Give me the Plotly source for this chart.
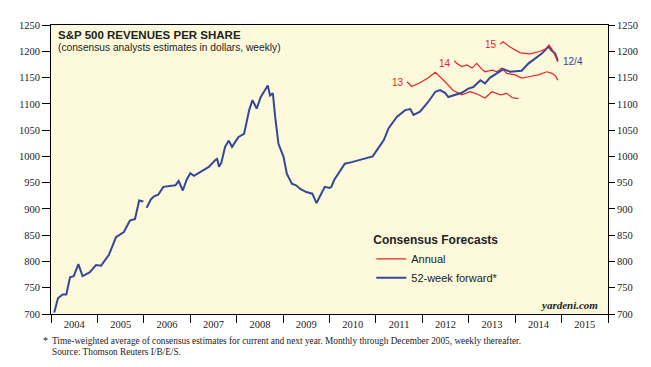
import plotly.graph_objects as go

# 52-week forward consensus revenues per share (decimal year, dollars)
fwd_x = [2004.07, 2004.15, 2004.25, 2004.33, 2004.41, 2004.49, 2004.59, 2004.68, 2004.83, 2004.97,
         2005.08, 2005.25, 2005.40, 2005.57, 2005.70, 2005.81, 2005.90, 2005.99, None,
         2006.06, 2006.15, 2006.22, 2006.31, 2006.42, 2006.55, 2006.68, 2006.75, 2006.84, 2006.92,
         2007.00, 2007.08, 2007.22, 2007.40, 2007.53, 2007.58, 2007.62, 2007.67, 2007.75, 2007.83, 2007.90,
         2008.04, 2008.16, 2008.27, 2008.34, 2008.43, 2008.52, 2008.61, 2008.67, 2008.72, 2008.78,
         2008.83, 2008.90, 2009.01, 2009.08, 2009.19, 2009.28, 2009.37, 2009.50, 2009.63, 2009.72,
         2009.80, 2009.90, 2010.00, 2010.04, 2010.10, 2010.19, 2010.33, 2010.48, 2010.71, 2010.93,
         2011.07, 2011.17, 2011.27, 2011.45, 2011.63, 2011.74, 2011.81, 2011.95,
         2012.13, 2012.28, 2012.38, 2012.49, 2012.56, 2012.71, 2012.85, 2012.99,
         2013.10, 2013.25, 2013.35, 2013.46, 2013.64, 2013.75, 2013.89,
         2014.04, 2014.14, 2014.29, 2014.43, 2014.58, 2014.72, 2014.79, 2014.86, 2014.92]
fwd_y = [703, 730, 737, 737, 770, 772, 795, 772, 779, 793,
         792, 813, 846, 856, 878, 881, 916, 914, None,
         902, 918, 924, 927, 942, 944, 945, 953, 935, 955,
         968, 963, 970, 980, 992, 995, 980, 988, 1018, 1030, 1018,
         1037, 1043, 1088, 1107, 1091, 1113, 1126, 1135, 1116, 1120,
         1075, 1024, 999, 967, 948, 945, 938, 932, 929, 911,
         925, 942, 940, 942, 955, 967, 986, 989, 994, 1000,
         1018, 1031, 1053, 1075, 1088, 1090, 1079, 1085,
         1104, 1123, 1126, 1121, 1113, 1117, 1121, 1129,
         1132, 1145, 1139, 1150, 1161, 1166, 1161,
         1163, 1163, 1177, 1187, 1196, 1209, 1201, 1196, 1182]

# Annual consensus estimates for 2013, 2014, 2015
y13_x = [2011.67, 2011.77, 2011.95, 2012.12, 2012.28, 2012.38, 2012.49, 2012.66, 2012.85, 2013.03,
         2013.17, 2013.35, 2013.50, 2013.68, 2013.82, 2013.93, 2014.07]
y13_y = [1142, 1133, 1140, 1149, 1160, 1152, 1142, 1126, 1117, 1123,
         1119, 1111, 1123, 1117, 1120, 1112, 1110]

y14_x = [2012.69, 2012.74, 2012.85, 2012.96, 2013.07, 2013.17, 2013.28, 2013.35, 2013.50, 2013.61,
         2013.71, 2013.82, 2014.00, 2014.14, 2014.32, 2014.50, 2014.68, 2014.79, 2014.86, 2014.92]
y14_y = [1182, 1177, 1171, 1174, 1168, 1177, 1166, 1161, 1164, 1161,
         1168, 1158, 1155, 1149, 1152, 1155, 1161, 1158, 1154, 1145]

y15_x = [2013.68, 2013.74, 2013.89, 2014.00, 2014.11, 2014.32, 2014.54, 2014.65, 2014.73, 2014.82,
         2014.86, 2014.92]
y15_y = [1214, 1218, 1208, 1202, 1197, 1195, 1200, 1204, 1212, 1200,
         1193, 1180]

year_labels = [str(y) for y in range(2004, 2016)]
year_mid = [y + 0.5 for y in range(2004, 2016)]
year_bounds = list(range(2004, 2017))

RED = "#E8232A"
BLUE = "#34479A"
SERIF = "Liberation Serif, Times New Roman, serif"
SANS = "Liberation Sans, Arial, sans-serif"

fig = go.Figure()
fig.add_trace(go.Scatter(x=y13_x, y=y13_y, mode="lines", name="Annual",
                         line=dict(color=RED, width=1.2), legendgroup="a", showlegend=True))
fig.add_trace(go.Scatter(x=y14_x, y=y14_y, mode="lines", name="Annual",
                         line=dict(color=RED, width=1.2), legendgroup="a", showlegend=False))
fig.add_trace(go.Scatter(x=y15_x, y=y15_y, mode="lines", name="Annual", yaxis="y2",
                         line=dict(color=RED, width=1.2), legendgroup="a", showlegend=False))
fig.add_trace(go.Scatter(x=fwd_x, y=fwd_y, mode="lines", name="52-week forward*",
                         line=dict(color=BLUE, width=2), connectgaps=False))

axis_font = dict(family=SERIF, size=10.5, color="#222")

fig.update_layout(
    width=643, height=359,
    margin=dict(l=43, r=43, t=17, b=53),
    paper_bgcolor="white",
    plot_bgcolor="#FCFADB",
    showlegend=True,
    legend=dict(
        x=0.575, y=0.295, xanchor="left", yanchor="top",
        bgcolor="rgba(0,0,0,0)",
        title=dict(text="<b>Consensus Forecasts</b>", font=dict(family=SANS, size=12, color="#222")),
        font=dict(family=SANS, size=11, color="#222"),
        tracegroupgap=0, itemwidth=30,
    ),
    xaxis=dict(
        range=[2004, 2016], tickmode="array", tickvals=year_mid, ticktext=year_labels,
        ticks="", showgrid=False, zeroline=False, showline=True, linecolor="black",
        linewidth=1, mirror=True, tickfont=axis_font,
        minor=dict(tickmode="array", tickvals=year_bounds, ticks="outside",
                   ticklen=8, tickcolor="black", showgrid=False),
    ),
    yaxis=dict(
        range=[700, 1250], dtick=50, ticks="outside", ticklen=8, tickcolor="black",
        showgrid=False, zeroline=False, showline=True, linecolor="black", linewidth=1,
        tickfont=axis_font,
    ),
    yaxis2=dict(
        range=[700, 1250], dtick=50, ticks="outside", ticklen=6, tickcolor="black",
        overlaying="y", side="right", showgrid=False, zeroline=False, showline=True,
        linecolor="black", linewidth=1, tickfont=axis_font,
    ),
)

annotations = [
    dict(text="<b>S&P 500 REVENUES PER SHARE</b>", xref="paper", yref="paper", x=0.009, y=0.965,
         xanchor="left", yanchor="middle", showarrow=False, font=dict(family=SANS, size=11.5, color="#222")),
    dict(text="(consensus analysts estimates in dollars, weekly)", xref="paper", yref="paper",
         x=0.009, y=0.922, xanchor="left", yanchor="middle", showarrow=False,
         font=dict(family=SANS, size=10.2, color="#222")),
    dict(text="13", x=2011.48, y=1141, showarrow=False, font=dict(family=SANS, size=10, color=RED)),
    dict(text="14", x=2012.48, y=1177, showarrow=False, font=dict(family=SANS, size=10, color=RED)),
    dict(text="15", x=2013.48, y=1212, showarrow=False, font=dict(family=SANS, size=10, color=RED)),
    dict(text="12/4", x=2014.99, y=1180, xanchor="left", showarrow=False,
         font=dict(family=SANS, size=10, color=BLUE)),
    dict(text="<b><i>yardeni.com</i></b>", xref="paper", yref="paper", x=0.986, y=0.03,
         xanchor="right", yanchor="middle", showarrow=False, font=dict(family=SERIF, size=11, color="#222")),
    dict(text="*", xref="paper", yref="paper", x=-0.018, y=-0.093, xanchor="left", yanchor="middle",
         showarrow=False, font=dict(family=SERIF, size=10, color="#222")),
    dict(text="Time-weighted average of consensus estimates for current and next year. Monthly through December 2005, weekly thereafter.",
         xref="paper", yref="paper", x=-0.002, y=-0.093, xanchor="left", yanchor="middle", align="left",
         showarrow=False, font=dict(family=SERIF, size=9.3, color="#222")),
    dict(text="Source: Thomson Reuters I/B/E/S.",
         xref="paper", yref="paper", x=-0.002, y=-0.131, xanchor="left", yanchor="middle", align="left",
         showarrow=False, font=dict(family=SERIF, size=9.3, color="#222")),
]
fig.update_layout(annotations=annotations)

fig.write_html("out.html")
